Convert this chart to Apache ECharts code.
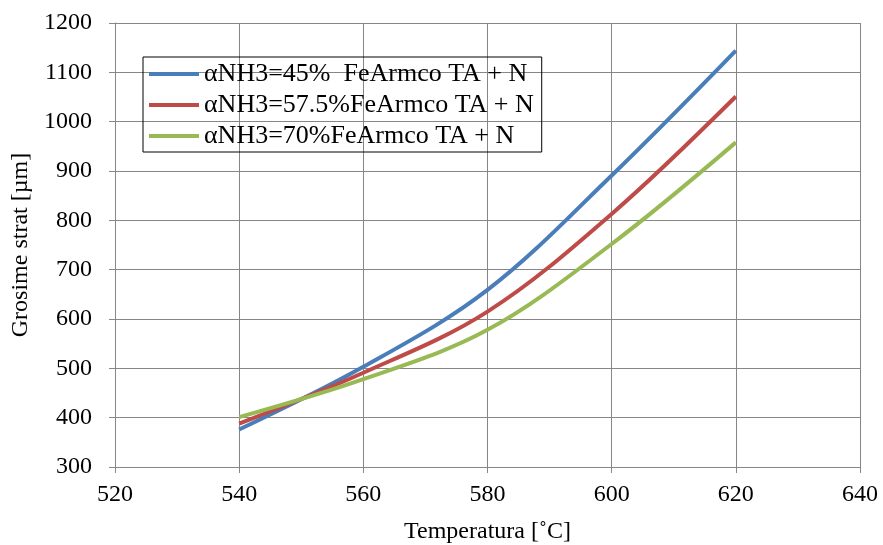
<!DOCTYPE html>
<html><head><meta charset="utf-8">
<script src="https://cdn.jsdelivr.net/npm/echarts@6/dist/echarts.min.js"></script>
<style>html,body{margin:0;padding:0;background:#fff}#c{width:883px;height:545px}</style>
</head><body><div id="c"></div>
<script>
const temps = [540, 560, 580, 600, 620];
const seriesNames = ["αNH3=45%  FeArmco TA + N", "αNH3=57.5%FeArmco TA + N", "αNH3=70%FeArmco TA + N"];
const blue45 = [376, 503, 659, 891, 1144];
const red575 = [388, 491, 615, 813, 1051];
const green70 = [401, 478, 578, 752, 958];
const colors = ["#4A7EBB", "#BE4B48", "#98B954"];

const font = "'Liberation Serif', 'Times New Roman', serif";
const chart = echarts.init(document.getElementById('c'));
const mk = (name, vals, color) => ({
  name, type: 'line', smooth: 0.35, symbol: 'none',
  data: temps.map((t, i) => [t, vals[i]]),
  lineStyle: { color, width: 4 }, itemStyle: { color }
});
chart.setOption({
  animation: false,
  grid: { left: 115, right: 23, top: 23, bottom: 78, containLabel: false, outerBoundsMode: 'none' },
  legend: {
    orient: 'vertical', left: 143, top: 57,
    data: seriesNames,
    icon: 'rect', itemWidth: 50, itemHeight: 4, itemGap: 5,
    borderColor: '#000', borderWidth: 1, padding: [4, 8, 3, 6],
    textStyle: { fontFamily: font, fontSize: 26, color: '#000' }
  },
  xAxis: {
    type: 'value', min: 520, max: 640, interval: 20,
    name: 'Temperatura [˚C]', nameLocation: 'middle', nameGap: 53,
    nameTextStyle: { fontFamily: font, fontSize: 24, color: '#000' },
    axisLine: { lineStyle: { color: '#868686' } },
    axisTick: { show: true, length: 6, lineStyle: { color: '#868686' } },
    axisLabel: { fontFamily: font, fontSize: 24, color: '#000', margin: 16 },
    splitLine: { show: true, lineStyle: { color: '#868686', width: 1 } }
  },
  yAxis: {
    type: 'value', min: 300, max: 1200, interval: 100,
    name: 'Grosime strat [µm]', nameLocation: 'middle', nameGap: 81,
    nameTextStyle: { fontFamily: font, fontSize: 24, color: '#000' },
    axisLine: { show: true, lineStyle: { color: '#868686' } },
    axisTick: { show: true, length: 6, lineStyle: { color: '#868686' } },
    axisLabel: { fontFamily: font, fontSize: 24, color: '#000', margin: 23, formatter: v => String(v) },
    splitLine: { show: true, lineStyle: { color: '#868686', width: 1 } }
  },
  series: [mk(seriesNames[0], blue45, colors[0]), mk(seriesNames[1], red575, colors[1]), mk(seriesNames[2], green70, colors[2])]
});
</script></body></html>
